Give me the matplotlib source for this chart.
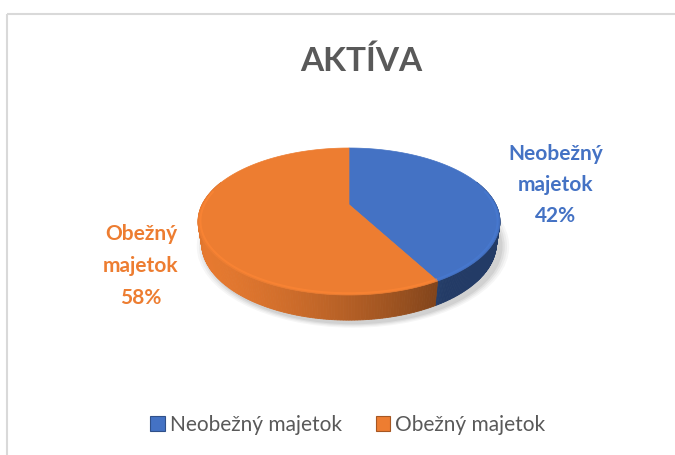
import numpy as np
import matplotlib
matplotlib.use("Agg")
import matplotlib.pyplot as plt
from matplotlib.patches import Polygon, Ellipse, Patch

# ---- data ----
title = "AKTÍVA"
categories = ["Neobežný majetok", "Obežný majetok"]
label_lines = ["Neobežný\nmajetok", "Obežný\nmajetok"]
values = [42, 58]
colors = ["#4472C4", "#ED7D31"]

plt.rcParams['font.family'] = ['Lato', 'DejaVu Sans']

W, H = 675, 455
fig = plt.figure(figsize=(W / 100, H / 100), dpi=100)
ax = fig.add_axes([0, 0, 1, 1])
ax.set_xlim(0, W)
ax.set_ylim(H, 0)
ax.axis("off")

# frame (left + top edges)
ax.plot([6.5, 6.5], [14, H], color="#D9D9D9", lw=1.5, solid_capstyle="butt")
ax.plot([6.5, W], [14, 14], color="#D9D9D9", lw=1.5, solid_capstyle="butt")

# ---- 3D pie projection ----
elev = np.radians(30.5)
ce, se = np.cos(elev), np.sin(elev)
Dcam = 4.45 * ce
h = 0.17


def proj(theta, r, z):
    # theta measured clockwise from the back (as seen from above)
    x = r * np.sin(theta)
    y = -r * np.cos(theta)
    d = y * ce + z * se
    f = Dcam / (Dcam - d)
    return x * f, (z * ce - y * se) * f


vb = proj(0.0, 1, h)[1]
vf = proj(np.pi, 1, h)[1]
top_px, front_px = 148.0, 295.0
scale = (front_px - top_px) / (vb - vf)
cy = top_px + vb * scale
cx = 349.0


def to_px(theta, r, z):
    x, v = proj(theta, r, z)
    return cx + x * scale, cy - v * scale


# soft shadow under the pie
bx0, by0 = to_px(np.pi, 1, 0)
bxb, byb = to_px(0.0, 1, 0)
xs = [to_px(t, 1, 0)[0] for t in np.linspace(0, 2 * np.pi, 200)]
bw = max(xs) - min(xs)
bh = by0 - byb
for grow, a in [(1.06, 0.035), (1.045, 0.04), (1.03, 0.05), (1.015, 0.06)]:
    ax.add_patch(Ellipse((cx + 4, (by0 + byb) / 2 + 3), bw * grow, bh * grow,
                         facecolor="#000000", alpha=a, edgecolor="none", zorder=1))

total = float(sum(values))
fracs = np.array(values) / total
starts = np.concatenate([[0], np.cumsum(fracs)[:-1]]) * 2 * np.pi
ends = np.cumsum(fracs) * 2 * np.pi

L = np.array([-0.85, 0.53])
L = L / np.linalg.norm(L)


def shade(col, k):
    rgb = np.array(matplotlib.colors.to_rgb(col))
    return tuple(np.clip(rgb * k, 0, 1))


# sides
for s, e, col in zip(starts, ends, colors):
    ts = np.linspace(s, e, 240)
    for t0, t1 in zip(ts[:-1], ts[1:]):
        tm = 0.5 * (t0 + t1)
        n = np.array([np.sin(tm), -np.cos(tm)])
        if n[1] < -0.35:
            continue
        k = 0.52 + 0.45 * max(0.0, n @ L)
        pts = [to_px(t0, 1, h), to_px(t1, 1, h), to_px(t1, 1, 0), to_px(t0, 1, 0)]
        ax.add_patch(Polygon(pts, closed=True, facecolor=shade(col, k),
                             edgecolor=shade(col, k), lw=0.6, zorder=2))

# top faces
for s, e, col in zip(starts, ends, colors):
    ts = np.linspace(s, e, 300)
    pts = [to_px(0, 0, h)] + [to_px(t, 1, h) for t in ts]
    ax.add_patch(Polygon(pts, closed=True, facecolor=col, edgecolor=col,
                         lw=0.5, zorder=3))
    # subtle bevel highlight along the front rim
    fr = [t for t in ts if np.cos(t) < 0.2]
    if fr:
        xy = np.array([to_px(t, 0.985, h) for t in fr])
        ax.plot(xy[:, 0], xy[:, 1], color=shade(col, 1.08), lw=1.4, alpha=0.6, zorder=4)

# ---- data labels ----
pct = [f"{v / total:.0%}" for v in values]
ax.text(556, 185, f"{label_lines[0]}\n{pct[0]}", color=colors[0], fontsize=15,
        fontweight="bold", ha="center", va="center", linespacing=1.68, zorder=5)
ax.text(141, 266, f"{label_lines[1]}\n{pct[1]}", color=colors[1], fontsize=15,
        fontweight="bold", ha="center", va="center", linespacing=1.75, zorder=5)

# ---- title ----
ax.text(361, 61, title, color="#595959", fontsize=24, fontweight="bold",
        ha="center", va="center", zorder=5)

# ---- legend ----
handles = [Patch(facecolor=c, edgecolor=shade(c, 0.7), lw=0.8) for c in colors]
leg = ax.legend(handles, categories, loc="center", bbox_to_anchor=(348 / W, 1 - 425 / H),
                ncol=2, frameon=False, fontsize=15, handlelength=0.7, handleheight=0.7,
                handletextpad=0.25, columnspacing=1.6, borderaxespad=0)
for t in leg.get_texts():
    t.set_color("#595959")

fig.savefig("out.png", dpi=100)
